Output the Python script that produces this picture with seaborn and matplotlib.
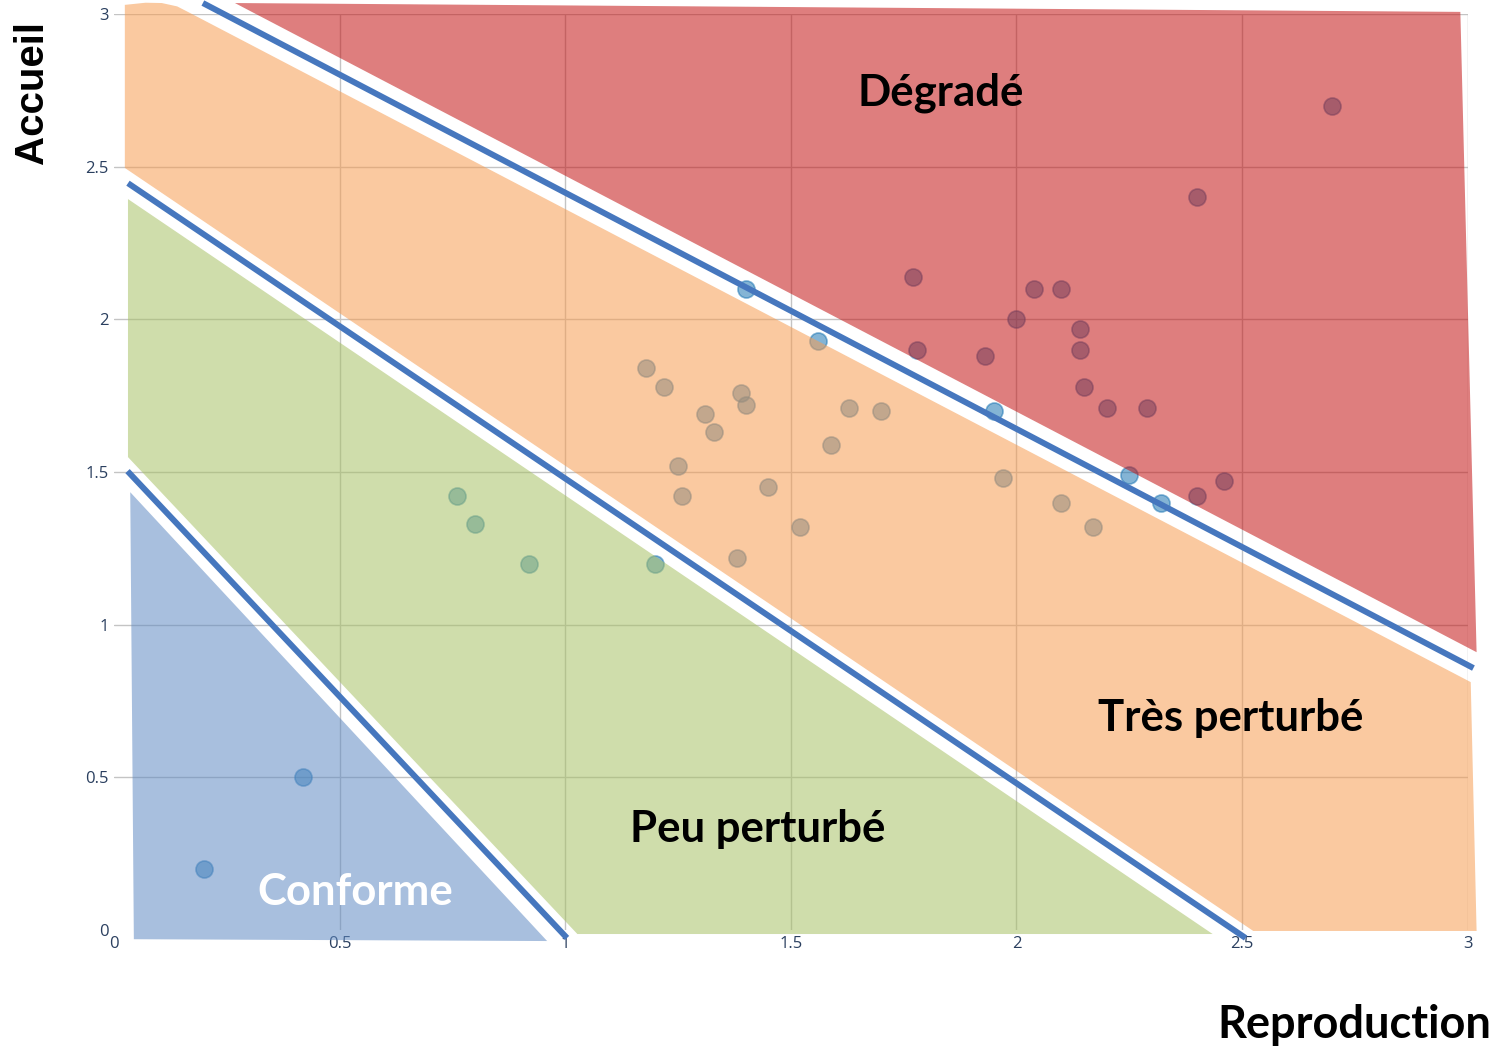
import matplotlib
matplotlib.use("Agg")
import matplotlib.pyplot as plt
import seaborn as sns
import pandas as pd
from matplotlib.patches import Polygon

# === DATA ===
# scatter points (Reproduction, Accueil)
repro = [2.70, 2.40, 1.77, 2.04, 2.10, 2.00, 1.78, 1.93, 2.14, 2.14, 2.15, 2.20, 2.29, 2.46, 2.40,
         1.40, 1.56, 1.95, 2.25, 2.32,
         1.18, 1.22, 1.39, 1.40, 1.31, 1.33, 1.63, 1.70, 1.59, 1.25, 1.26, 1.45, 1.52, 1.38,
         1.97, 2.10, 2.17,
         0.76, 0.80, 0.92, 1.20,
         0.20, 0.42]
accueil = [2.70, 2.40, 2.14, 2.10, 2.10, 2.00, 1.90, 1.88, 1.97, 1.90, 1.78, 1.71, 1.71, 1.47, 1.42,
           2.10, 1.93, 1.70, 1.49, 1.40,
           1.84, 1.78, 1.76, 1.72, 1.69, 1.63, 1.71, 1.70, 1.59, 1.52, 1.42, 1.45, 1.32, 1.22,
           1.48, 1.40, 1.32,
           1.42, 1.33, 1.20, 1.20,
           0.20, 0.50]

# zones (polygon vertices, data coords)
zone_conforme = [(0.036, 1.434), (0.96, -0.036), (0.044, -0.03)]
zone_peu = [(0.031, 2.394), (2.435, -0.013), (1.027, -0.013), (0.031, 1.549)]
zone_tres = [(0.024, 3.03), (0.07, 3.037), (0.106, 3.036), (0.14, 3.025), (0.169, 3.003),
             (3.007, 0.812), (3.02, -0.003), (2.525, -0.003), (0.024, 2.496)]
zone_degrade = [(0.268, 3.036), (2.984, 3.007), (3.02, 0.91)]

# separating lines
sep_1 = [(0.03, 1.503), (1.004, -0.026)]
sep_2 = [(0.031, 2.446), (2.508, -0.026)]
sep_3 = [(0.197, 3.036), (3.013, 0.858)]

ticks = [0, 0.5, 1, 1.5, 2, 2.5, 3]
tick_labels = ["0", "0.5", "1", "1.5", "2", "2.5", "3"]

# === FIGURE ===
sns.set_style("white")
plt.rcParams['font.family'] = ['Open Sans', 'DejaVu Sans']

fig = plt.figure(figsize=(14.95, 10.47), dpi=100)
ax = fig.add_axes([0.07625, 0.1117, 0.9054, 0.8749])
ax.set_xlim(0, 3)
ax.set_ylim(0, 3)

df = pd.DataFrame({'Reproduction': repro, 'Accueil': accueil})
sns.scatterplot(data=df, x='Reproduction', y='Accueil', ax=ax, s=150, color='#1f77b4',
                alpha=0.55, edgecolor='#1f77b4', linewidth=1.2, zorder=1, legend=False)

for verts, col in [(zone_conforme, '#618BC3'), (zone_peu, '#A8C166'),
                   (zone_tres, '#F69D52'), (zone_degrade, '#C31414')]:
    ax.add_patch(Polygon(verts, closed=True, facecolor=col, alpha=0.55,
                         edgecolor='none', zorder=2, clip_on=False))

for seg in [sep_1, sep_2, sep_3]:
    ax.plot([seg[0][0], seg[1][0]], [seg[0][1], seg[1][1]], color='#4677BE',
            lw=4.3, solid_capstyle='butt', zorder=3, clip_on=False)

ax.set_xticks(ticks)
ax.set_yticks(ticks)
ax.set_xticklabels(tick_labels)
ax.set_yticklabels(tick_labels)
ax.grid(True, color='#c4c4c4', lw=1)
ax.set_axisbelow(True)
ax.xaxis.get_gridlines()[0].set_visible(False)
ax.yaxis.get_gridlines()[0].set_visible(False)
ax.tick_params(axis='both', labelsize=12, colors='#2a3f5f', length=3, width=0.8, pad=1)
ax.tick_params(axis='both', color='#c4c4c4')
for s in ax.spines.values():
    s.set_visible(False)
ax.set_xlabel('')
ax.set_ylabel('')

lbl = dict(fontweight='bold', family=['Lato', 'DejaVu Sans'], fontsize=31.5,
           ha='center', va='center', zorder=5)
ax.text(1.832, 2.741, 'Dégradé', color='black', **lbl)
ax.text(2.475, 0.694, 'Très perturbé', color='black', **lbl)
ax.text(1.426, 0.331, 'Peu perturbé', color='black', **lbl)
ax.text(0.534, 0.124, 'Conforme', color='white', **lbl)

fig.text(0.0214, 0.912, 'Accueil', rotation=90, fontsize=29, fontweight='bold', color='black',
         family=['Liberation Sans', 'DejaVu Sans'], ha='center', va='center')
fig.text(0.9057, 0.021, 'Reproduction', fontsize=32.5, fontweight='bold', color='black',
         family=['Lato', 'DejaVu Sans'], ha='center', va='center')

fig.savefig('out.png', dpi=100)
plt.close(fig)
